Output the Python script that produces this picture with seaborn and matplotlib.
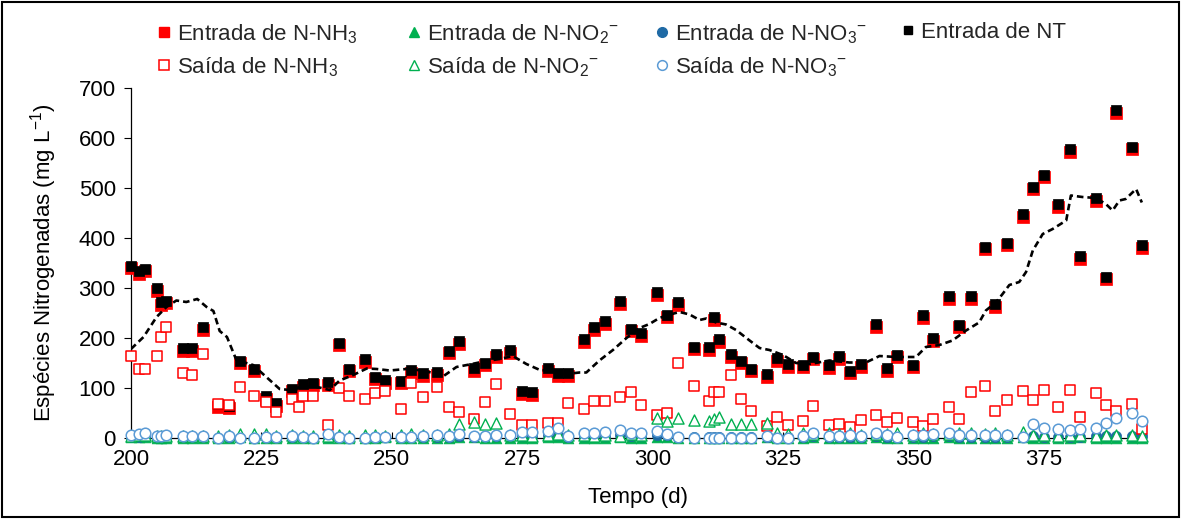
import numpy as np
import pandas as pd
import seaborn as sns
import matplotlib.pyplot as plt
from matplotlib.lines import Line2D
from matplotlib.patches import Rectangle

nan = np.nan

# dias de operação (d)
dias = [200, 201.6, 202.7, 204.9, 205.8, 206.8, 210, 211.7, 213.8, 216.7,
        218.7, 220.9, 223.6, 225.9, 227.8, 230.8, 232.3, 232.9, 234.9, 237.7,
        239.9, 241.8, 244.9, 246.7, 248.7, 251.8, 253.7, 255.9, 258.7, 260.9,
        262.8, 265.8, 267.8, 269.9, 272.7, 275, 276.8, 279.9, 281.9, 283.8,
        286.8, 288.7, 290.9, 293.7, 295.8, 297.8, 300.8, 302.7, 304.9, 307.9,
        310.8, 311.8, 312.8, 315, 316.9, 318.8, 321.9, 323.8, 325.9, 328.8,
        330.8, 333.8, 335.8, 337.9, 340, 342.9, 345, 346.9, 350, 351.9,
        353.8, 356.9, 358.8, 361, 363.8, 365.7, 367.9, 371, 372.9, 375,
        377.8, 380, 381.9, 385, 386.9, 388.8, 391.9, 393.8]

nt_entrada = [344, 333, 338, 299, 271, 274, 179, 179, 221, 67,
              64, 154, 138, 83, 69, 98, nan, 107, 110, 111,
              190, 138, 157, 122, 115, 114, 135, 129, 131, 174,
              193, 139, 150, 167, 175, 94, 91, 139, 129, 129,
              197, 221, 233, 273, 218, 209, 291, 246, 271, 182,
              181, 241, 197, 167, 154, 138, 127, 159, 147, 146,
              162, 145, 163, 134, 147, 227, 139, 166, 146, 245,
              199, 283, 226, 283, 382, 267, 390, 447, 502, 526,
              467, 577, 363, 479, 322, 655, 582, 386]

nh3_entrada = [339, 328, 333, 294, 266, 269, 174, 174, 216, 62,
               60, 149, 133, 78, 64, 93, nan, 102, 105, 106,
               185, 133, 152, 117, 110, 109, 130, 124, 126, 169,
               188, 134, 145, 162, 170, 88, 86, 134, 124, 124,
               192, 216, 228, 268, 213, 204, 286, 241, 266, 177,
               176, 236, 192, 162, 149, 133, 122, 154, 142, 141,
               157, 140, 158, 129, 142, 222, 134, 161, 141, 240,
               194, 278, 221, 278, 377, 262, 385, 442, 497, 521,
               462, 572, 358, 474, 317, 650, 577, 379]

nh3_saida = [163, 138, 138, 163, 202, 222, 129, 126, 167, 67,
             65, 101, 83, 71, 51, 77, 62, 83, 83, 26,
             99, 83, 78, 90, 93, 58, 110, 81, 102, 61,
             51, 38, 71, 107, 47, 26, 26, 29, 29, 70,
             58, 74, 74, 82, 91, 65, 46, 50, 149, 103,
             74, 91, 91, 126, 78, 53, 24, 42, 26, 34,
             63, 26, 28, 21, 35, 46, 31, 39, 31, 23,
             37, 61, 38, 91, 103, 54, 75, 94, 75, 95,
             61, 95, 41, 90, 66, 54, 67, 18]

no2_entrada = [1, 1, 1, 0, 0, 0, 0, 0, 0, 0,
               0, 1, 0, 0, 0, 0, nan, 0, 0, 0,
               0, 0, 0, 0, 1, 0, 0, 0, 0, 0,
               1, 1, 0, 0, 0, 0, 0, 1, 1, 0,
               0, 0, 0, 1, 0, 0, 1, 1, 0, 0,
               0, 0, 0, 0, 0, 0, 1, 0, 0, 0,
               1, 0, 0, 0, 0, 1, 0, 0, 0, 0,
               0, 1, 0, 0, 0, 0, 0, 1, 0, 0,
               0, 0, 1, 0, 0, 0, 0, 0]

no2_saida = [4, 6, 5, 3, 3, 4, 3, 3, 3, 4,
             6, 8, 7, 8, 4, 5, nan, 4, 3, 3,
             6, 4, 6, 5, 4, 5, 7, 5, 6, 8,
             27, 32, 28, 30, 6, 5, 4, 5, 8, 6,
             5, 4, 6, 4, 8, 5, 40, 34, 40, 35,
             34, 38, 42, 27, 28, 27, 30, 10, 8, 9,
             8, 9, 8, 10, 6, 7, 8, 10, 6, 10,
             8, 7, 10, 9, 8, 10, 5, 11, 6, 5,
             4, 5, 6, 4, 6, 5, 5, 4]

no3_entrada = [2, 2, 3, 1, 1, 2, 1, 1, 1, 0,
               1, 0, 0, 1, 1, 1, nan, 1, 0, 2,
               1, 0, 0, 1, 1, 1, 1, 2, 2, 1,
               4, 2, 3, 3, 3, 4, 4, 5, 5, 2,
               3, 4, 4, 5, 4, 4, 6, 5, 2, 1,
               1, 1, 1, 1, 1, 1, 2, 1, 1, 2,
               3, 2, 2, 2, 2, 3, 2, 1, 2, 2,
               3, 3, 2, 2, 2, 2, 2, 1, 3, 2,
               2, 2, 2, 3, 3, 3, 4, 4]

no3_saida = [5, 8, 10, 3, 3, 6, 3, 3, 4, 0,
             3, 0, 0, 2, 2, 3, nan, 2, 0, 7,
             2, 0, 0, 2, 2, 2, 2, 4, 6, 3,
             8, 4, 4, 5, 5, 12, 11, 14, 19, 3,
             10, 10, 11, 15, 10, 10, 14, 7, 2, 0,
             0, 0, 0, 0, 0, 0, 4, 0, 0, 3,
             10, 4, 4, 5, 3, 10, 5, 2, 5, 5,
             7, 10, 6, 6, 6, 5, 5, 2, 27, 19,
             17, 16, 18, 19, 30, 39, 49, 33]

# linha tracejada (tendência da entrada de NT)
tend_x = [200, 202.4, 204.9, 206.8, 208.7, 210.6, 212.7, 214.5, 215.8, 217,
          218.4, 220.2, 223.4, 225.3, 228.5, 230.5, 232.4, 234.9, 238.1, 240,
          242.6, 245.2, 247.1, 249.6, 252.8, 256, 258.6, 259.8, 262.4, 264.9,
          268.1, 270.7, 273.2, 275.8, 278.4, 281, 283.5, 286, 287.3, 289.8,
          292.4, 295, 297.5, 299.4, 301.3, 303.3, 305.2, 307.1, 309, 310.3,
          312.2, 314.1, 316, 318.6, 320.5, 322.4, 325, 327.5, 330.1, 333.9,
          337.7, 340.9, 343.5, 346.7, 350.5, 352.4, 355, 357.5, 360.1, 362.6,
          363.9, 365.8, 367.1, 368.4, 370.3, 371.6, 372.9, 374.8, 376.7, 379.3,
          380.2, 382.4, 385, 386.9, 388.2, 389.5, 390.7, 392.7, 393.8]
tend_y = [177, 201, 241, 261, 274, 271, 277, 261, 253, 213,
          201, 155, 145, 127, 97, 95, 101, 103, 95, 114,
          125, 138, 137, 134, 137, 134, 127, 122, 141, 146,
          153, 157, 163, 147, 135, 133, 127, 130, 130, 154,
          175, 199, 219, 227, 239, 246, 251, 246, 235, 238,
          230, 226, 215, 194, 179, 175, 165, 149, 147, 154,
          150, 150, 163, 161, 161, 181, 185, 194, 214, 230,
          254, 270, 287, 305, 311, 331, 374, 407, 417, 434,
          484, 481, 479, 467, 454, 474, 477, 497, 470]

df = pd.DataFrame({'dia': dias, 'nt_e': nt_entrada, 'nh3_e': nh3_entrada,
                   'nh3_s': nh3_saida, 'no2_e': no2_entrada, 'no2_s': no2_saida,
                   'no3_e': no3_entrada, 'no3_s': no3_saida})
tend = pd.DataFrame({'dia': tend_x, 'nt': tend_y})

sns.set_theme(style='white')
plt.rcParams['font.family'] = ['Liberation Sans', 'DejaVu Sans']
plt.rcParams['mathtext.fontset'] = 'custom'
plt.rcParams['mathtext.rm'] = 'Liberation Sans'
plt.rcParams['mathtext.it'] = 'Liberation Sans:italic'
plt.rcParams['mathtext.bf'] = 'Liberation Sans:bold'

VERM = '#FF0000'
VERDE = '#00B050'
AZUL_E = '#1F6AA5'
AZUL_S = '#5B9BD5'
fs = 16

fig = plt.figure(figsize=(11.81, 5.19), dpi=100)
ax = fig.add_axes([131 / 1181, 1 - 437.5 / 519, (1146 - 131) / 1181, 350 / 519])

kw = dict(ax=ax, clip_on=False, legend=False)
sns.scatterplot(data=df, x='dia', y='nh3_e', marker='s', s=68, color=VERM,
                edgecolor=VERM, linewidth=0.5, zorder=3, **kw)
sns.scatterplot(data=df, x='dia', y='nt_e', marker='s', s=58, color='black',
                edgecolor='black', linewidth=0.5, zorder=4, **kw)
sns.scatterplot(data=df, x='dia', y='no2_e', marker='^', s=60, color=VERDE,
                edgecolor=VERDE, linewidth=0.5, zorder=3, **kw)
sns.scatterplot(data=df, x='dia', y='no3_e', marker='o', s=55, color=AZUL_E,
                edgecolor=AZUL_E, linewidth=0.5, zorder=3, **kw)
sns.scatterplot(data=df, x='dia', y='nh3_s', marker='s', s=58, color='white',
                edgecolor=VERM, linewidth=1.1, zorder=5, **kw)
sns.scatterplot(data=df, x='dia', y='no2_s', marker='^', s=64, color='white',
                edgecolor=VERDE, linewidth=1.0, zorder=5, **kw)
sns.scatterplot(data=df, x='dia', y='no3_s', marker='o', s=58, color='white',
                edgecolor=AZUL_S, linewidth=1.1, zorder=6, **kw)
sns.lineplot(data=tend, x='dia', y='nt', color='black', lw=1.9, zorder=7, ax=ax)
ax.lines[-1].set_linestyle((0, (2.5, 1.5)))

ax.set_xlim(200, 394.6)
ax.set_ylim(0, 700)
ax.set_xticks(range(200, 376, 25))
ax.set_yticks(range(0, 701, 100))
ax.tick_params(axis='x', direction='in', length=4, width=0.8, labelsize=fs,
               pad=8, colors='black', bottom=True)
ax.tick_params(axis='y', direction='out', length=5, width=0.8, labelsize=fs,
               pad=6, colors='black', left=True)
for side in ['top', 'right']:
    ax.spines[side].set_visible(False)
for side in ['left', 'bottom']:
    ax.spines[side].set_color('black')
    ax.spines[side].set_linewidth(0.9)
ax.set_xlabel('Tempo (d)', fontsize=fs, color='black')
ax.set_ylabel('Espécies Nitrogenadas (mg L$^{-1}$)', fontsize=fs, color='black')
ax.xaxis.set_label_coords(0.5, -0.142)
ax.yaxis.set_label_coords(-0.071, 0.5)

# legenda: quatro colunas posicionadas como no original
colunas = [
    (157, [(dict(marker='s', ms=7, color=VERM), 'Entrada de N-NH$_3$'),
           (dict(marker='s', ms=7, mfc='white', mec=VERM, mew=1.1), 'Saída de N-NH$_3$')]),
    (407, [(dict(marker='^', ms=7, color=VERDE), 'Entrada de N-NO$_2$$^{-}$'),
           (dict(marker='^', ms=7, mfc='white', mec=VERDE, mew=1.0), 'Saída de N-NO$_2$$^{-}$')]),
    (655, [(dict(marker='o', ms=7, color=AZUL_E), 'Entrada de N-NO$_3$$^{-}$'),
           (dict(marker='o', ms=7, mfc='white', mec=AZUL_S, mew=1.1), 'Saída de N-NO$_3$$^{-}$')]),
    (901, [(dict(marker='s', ms=6, color='black'), 'Entrada de NT')]),
]
for x0, itens in colunas:
    hs = [Line2D([], [], ls='none', **st) for st, _ in itens]
    lbs = [lb for _, lb in itens]
    fig.legend(hs, lbs, loc='upper left', bbox_to_anchor=(x0 / 1181, 1 - 22 / 519),
               frameon=False, fontsize=fs, handlelength=0.6, handletextpad=0.3,
               labelspacing=0.42, borderpad=0, borderaxespad=0)

fig.patches.append(Rectangle((0.002, 0.003), 0.996, 0.994, transform=fig.transFigure,
                             fill=False, edgecolor='black', lw=1.5))

fig.savefig('out.png', dpi=100, facecolor='white')
